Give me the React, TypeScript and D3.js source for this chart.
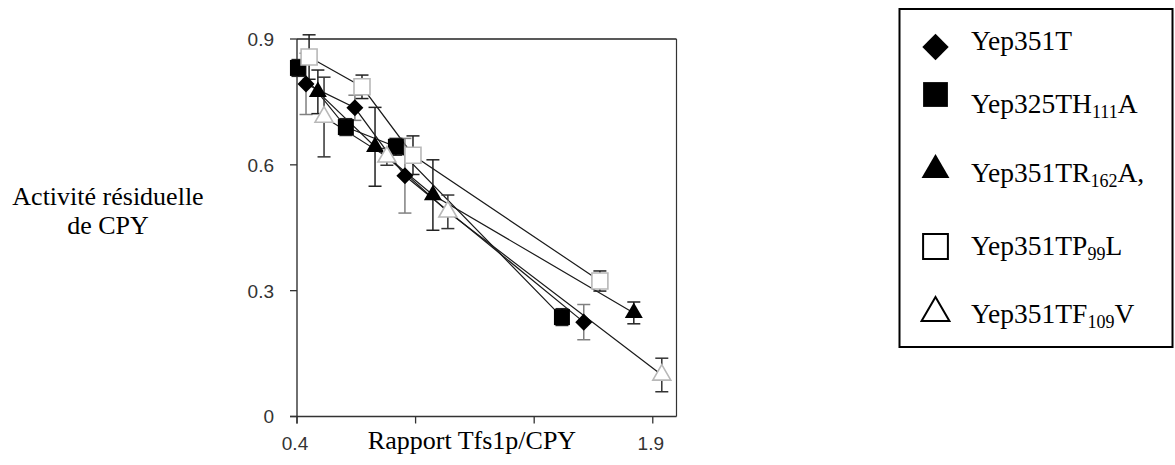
import React from "react";
import * as d3 from "d3";

// ---- data ----
const seriesNames = ["Yep351T", "Yep325TH111A", "Yep351TR162A,", "Yep351TP99L", "Yep351TF109V"];

const diamondX = [0.438, 0.644, 0.855, 1.609];
const diamondY = [0.793, 0.736, 0.574, 0.225];
const diamondErr = [0.073, 0.03, 0.089, 0.042];

const squareX = [0.404, 0.606, 0.817, 1.517];
const squareY = [0.831, 0.69, 0.643, 0.237];
const squareErr = [0.02, 0.02, 0.02, 0.02];

const triangleX = [0.488, 0.729, 0.973, 1.82];
const triangleY = [0.774, 0.643, 0.528, 0.247];
const triangleErr = [0.052, 0.094, 0.084, 0.026];

const openSquareX = [0.451, 0.674, 0.889, 1.677];
const openSquareY = [0.857, 0.786, 0.623, 0.323];
const openSquareErr = [0.053, 0.028, 0.046, 0.024];

const openTriangleX = [0.514, 0.779, 1.036, 1.938];
const openTriangleY = [0.714, 0.619, 0.488, 0.099];
const openTriangleErr = [0.095, 0.02, 0.04, 0.04];

const xTicks = [0.4, 0.9, 1.4, 1.9];
const xTickLabels = ["0.4", "", "", "1.9"];
const yTicks = [0, 0.3, 0.6, 0.9];
const yTickLabels = ["0", "0.3", "0.6", "0.9"];

const xTitle = "Rapport Tfs1p/CPY";
const yTitle = ["Activité résiduelle", "de CPY"];

// ---- layout ----
const W = 1175;
const H = 465;
const left = 297;
const right = 676.5;
const top = 39;
const bottom = 416.5;

type Series = {
  name: string;
  x: number[];
  y: number[];
  err: number[];
  shape: "diamond" | "square" | "triangle";
  open: boolean;
  errColor: string;
};

const series: Series[] = [
  { name: seriesNames[0], x: diamondX, y: diamondY, err: diamondErr, shape: "diamond", open: false, errColor: "#808080" },
  { name: seriesNames[1], x: squareX, y: squareY, err: squareErr, shape: "square", open: false, errColor: "#222" },
  { name: seriesNames[2], x: triangleX, y: triangleY, err: triangleErr, shape: "triangle", open: false, errColor: "#222" },
  { name: seriesNames[3], x: openSquareX, y: openSquareY, err: openSquareErr, shape: "square", open: true, errColor: "#222" },
  { name: seriesNames[4], x: openTriangleX, y: openTriangleY, err: openTriangleErr, shape: "triangle", open: true, errColor: "#333" },
];

function symbolPath(shape: string, scale: number): string {
  if (shape === "diamond") return d3.symbol(d3.symbolSquare, 145 * scale * scale)()!;
  if (shape === "square") return d3.symbol(d3.symbolSquare, 256 * scale * scale)()!;
  return d3.symbol(d3.symbolTriangle, 140 * scale * scale)()!;
}

function Marker({ s, cx, cy, scale, legend }: { s: Series; cx: number; cy: number; scale: number; legend?: boolean }) {
  const d = symbolPath(s.shape, scale);
  const rot = s.shape === "diamond" ? " rotate(45)" : "";
  return (
    <path
      d={d}
      transform={`translate(${cx},${cy})${rot}`}
      fill={s.open ? "#fff" : "#000"}
      stroke={s.open ? (legend ? "#000" : "#b8b8b8") : "none"}
      strokeWidth={s.open ? (legend ? 2 : 1.6) : 0}
    />
  );
}

const serif = "'Liberation Serif', 'Times New Roman', serif";
const sans = "'Liberation Sans', Arial, sans-serif";

function LegendLabel({ name, x, y }: { name: string; x: number; y: number }) {
  const m = name.match(/^(Yep\d+T[A-Z])(\d+)(.*)$/);
  const style = { fontFamily: serif, fontSize: 27.5 };
  if (!m) {
    return (
      <text x={x} y={y} style={style} fill="#000">
        {name}
      </text>
    );
  }
  return (
    <text x={x} y={y} style={style} fill="#000">
      {m[1]}
      <tspan fontSize={18} dy={5}>
        {m[2]}
      </tspan>
      <tspan dy={-5}>{m[3]}</tspan>
    </text>
  );
}

export default function App() {
  const x = d3.scaleLinear().domain([0.4, 2.0]).range([left, right]);
  const y = d3.scaleLinear().domain([0, 0.9]).range([bottom, top]);
  const line = d3
    .line<[number, number]>()
    .x((d) => x(d[0]))
    .y((d) => y(d[1]));

  const legendMarkerY = [47, 94.5, 170, 246.5, 313];
  const legendTextY = [50, 113, 182, 255, 323];

  return (
    <svg
      width={W}
      height={H}
      style={{ position: "absolute", left: 0, top: 0, background: "#fff" }}
    >
      {/* frame */}
      <line x1={left} x2={right} y1={top} y2={top} stroke="#222" strokeWidth={1.3} />
      <line x1={right} x2={right} y1={top} y2={bottom} stroke="#333" strokeWidth={1.2} />
      <line x1={left - 7} x2={right} y1={bottom} y2={bottom} stroke="#333" strokeWidth={1.3} />
      <line x1={left} x2={left} y1={top} y2={bottom + 7} stroke="#222" strokeWidth={1.3} />

      {/* y ticks */}
      {yTicks.map((t, i) => (
        <g key={"yt" + i}>
          <line x1={left - 7} x2={left} y1={y(t)} y2={y(t)} stroke="#333" strokeWidth={1.3} />
          <text
            x={left - 23}
            y={y(t)}
            dy="0.36em"
            textAnchor="end"
            style={{ fontFamily: sans, fontSize: 19 }}
            fill="#333"
          >
            {yTickLabels[i]}
          </text>
        </g>
      ))}

      {/* x ticks */}
      {xTicks.map((t, i) => (
        <g key={"xt" + i}>
          <line x1={x(t)} x2={x(t)} y1={bottom} y2={bottom + 7} stroke="#333" strokeWidth={1.3} />
          <text
            x={x(t) - 2}
            y={450}
            textAnchor="middle"
            style={{ fontFamily: sans, fontSize: 19 }}
            fill="#333"
          >
            {xTickLabels[i]}
          </text>
        </g>
      ))}

      {/* axis titles */}
      <text x={472} y={449} textAnchor="middle" style={{ fontFamily: serif, fontSize: 26 }} fill="#000">
        {xTitle}
      </text>
      {yTitle.map((t, i) => (
        <text
          key={"ytl" + i}
          x={108}
          y={205 + i * 29}
          textAnchor="middle"
          style={{ fontFamily: serif, fontSize: 26 }}
          fill="#000"
        >
          {t}
        </text>
      ))}

      {/* lines */}
      {series.map((s, si) => (
        <path
          key={"ln" + si}
          d={line(s.x.map((v, i) => [v, s.y[i]] as [number, number]))!}
          fill="none"
          stroke="#1a1a1a"
          strokeWidth={1.2}
        />
      ))}

      {/* error bars */}
      {series.map((s, si) =>
        s.x.map((v, i) => {
          const cx = x(v);
          const y1 = y(s.y[i] + s.err[i]);
          const y2 = y(s.y[i] - s.err[i]);
          return (
            <g key={`eb${si}-${i}`} stroke={s.errColor} strokeWidth={1.5}>
              <line x1={cx} x2={cx} y1={y1} y2={y2} />
              <line x1={cx - 6.5} x2={cx + 6.5} y1={y1} y2={y1} />
              <line x1={cx - 6.5} x2={cx + 6.5} y1={y2} y2={y2} />
            </g>
          );
        })
      )}

      {/* markers */}
      {series.map((s, si) =>
        s.x.map((v, i) => (
          <Marker key={`mk${si}-${i}`} s={s} cx={x(v)} cy={y(s.y[i])} scale={1} />
        ))
      )}

      {/* legend */}
      <rect x={899.5} y={9} width={273} height={338} fill="#fff" stroke="#000" strokeWidth={2} />
      {series.map((s, i) => (
        <g key={"lg" + i}>
          <Marker s={s} cx={935.5} cy={legendMarkerY[i]} scale={1.55} legend />
          <LegendLabel name={s.name} x={971} y={legendTextY[i]} />
        </g>
      ))}
    </svg>
  );
}
